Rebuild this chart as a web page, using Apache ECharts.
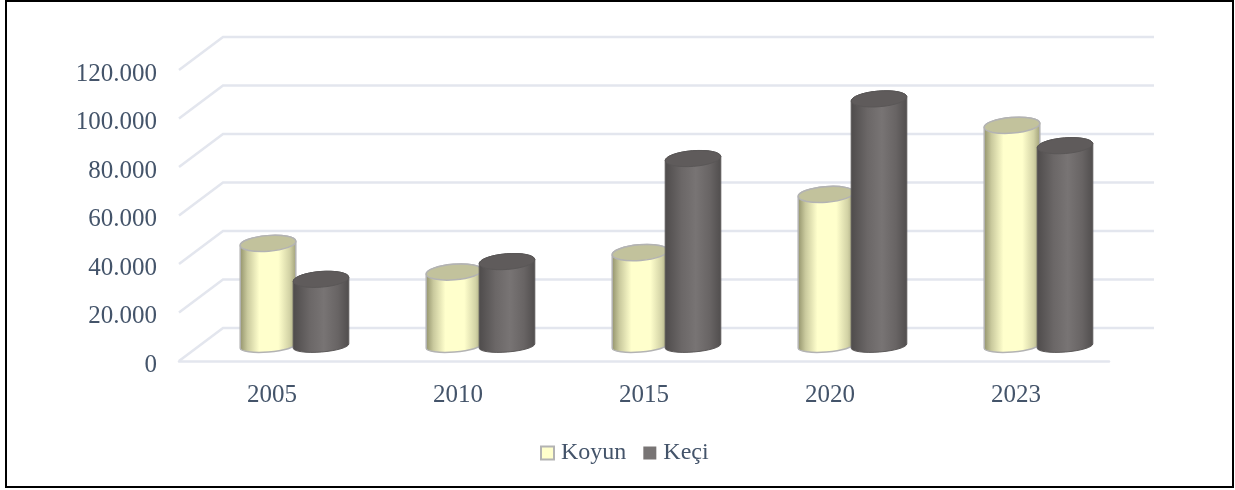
<!DOCTYPE html>
<html><head><meta charset="utf-8">
<style>html,body{margin:0;padding:0;background:#fff}#c{width:1235px;height:490px}</style>
<script src="https://cdn.jsdelivr.net/npm/echarts@6/dist/echarts.min.js"></script>
</head><body><div id="c"></div>
<script>
const years = ['2005','2010','2015','2020','2023'];
const koyun = [42300,30500,38500,62500,91000];
const keci  = [27500,34800,77300,101900,82600];
const gridTicks = [0,20000,40000,60000,80000,100000,120000];
const FONT = 'Liberation Serif';
const TXT = '#44546a';
const DX = 44, DY = -33;      // depth of the pseudo-3D floor
const CX = 22.5, CY = -15;    // where the cylinders stand in that depth
const HALF = 27.8;
const styles = {
  koyun: {
    body: {type:'linear',x:0,y:0,x2:1,y2:0,colorStops:[
      {offset:0,color:'#8f8f68'},{offset:.14,color:'#c9c99d'},{offset:.35,color:'#ffffcc'},
      {offset:.68,color:'#ffffcc'},{offset:.88,color:'#d2d2a5'},{offset:1,color:'#9c9c76'}]},
    top:'#c2c29c', stroke:'#b3b3b3', lw:1.5
  },
  keci: {
    body: {type:'linear',x:0,y:0,x2:1,y2:0,colorStops:[
      {offset:0,color:'#4e4b4b'},{offset:.3,color:'#6b6767'},{offset:.55,color:'#787474'},
      {offset:.8,color:'#686464'},{offset:1,color:'#504d4d'}]},
    top:'#5f5b5b', stroke:'#5a5757', lw:1
  }
};
function wall(params, api){
  const a = api.coord([0, api.value(0)]);
  const y = a[1], x0 = params.coordSys.x, x1 = x0 + params.coordSys.width;
  const st = {stroke:'#e3e6ee', lineWidth:2.5, fill:'none'};
  return {type:'polyline', silent:true,
    shape:{points:[[x0,y],[x0+DX,y+DY],[x1+DX+1,y+DY]]}, style:st};
}
function cylinder(shift, s){
  return function(params, api){
    const base = api.coord([api.value(0), 0]);
    const head = api.coord([api.value(0), api.value(1)]);
    const cx = base[0] + CX + shift, yb = base[1] + CY, yt = head[1] + CY;
    const t = 2.2, rxs = HALF, ryb = 6, ryt = 7.8;
    const rot = -4.5;
    const d = `M${cx-rxs} ${yt+t} A${rxs} ${ryt} ${rot} 0 1 ${cx+rxs} ${yt-t} ` +
              `L${cx+rxs} ${yb-t} A${rxs} ${ryb} ${rot} 0 1 ${cx-rxs} ${yb+t} Z`;
    const topD = `M${cx-rxs} ${yt+t} A${rxs} ${ryt} ${rot} 0 1 ${cx+rxs} ${yt-t} ` +
                 `A${rxs} ${ryt} ${rot} 0 1 ${cx-rxs} ${yt+t} Z`;
    return {type:'group', children:[
      {type:'path', shape:{pathData:d}, style:{fill:s.body, stroke:s.stroke, lineWidth:s.lw}},
      {type:'path', shape:{pathData:topD}, style:{fill:s.top, stroke:s.stroke, lineWidth:s.lw}}
    ]};
  };
}
const chart = echarts.init(document.getElementById('c'));
chart.setOption({
  animation:false,
  backgroundColor:'#fff',
  graphic:[{type:'rect', silent:true, z:100, shape:{x:6,y:1,width:1227,height:486},
    style:{fill:'none', stroke:'#000', lineWidth:2}}],
  grid:{left:179, top:70, width:930, height:291},
  legend:{
    bottom:25, left:540, padding:0, itemGap:17, itemWidth:13, itemHeight:13,
    textStyle:{fontFamily:FONT, fontSize:24, color:TXT, padding:[4,0,0,2]},
    data:[
      {name:'Koyun', icon:'rect', itemStyle:{color:'#ffffcc', borderColor:'#b3b3b3', borderWidth:2}},
      {name:'Keçi', icon:'rect', itemStyle:{color:'#787474'}}
    ]
  },
  xAxis:{type:'category', data:years,
    axisLine:{show:true, lineStyle:{color:'#e3e6ee', width:2.5}},
    axisTick:{show:false},
    axisLabel:{fontFamily:FONT, fontSize:25, color:TXT, margin:22}},
  yAxis:{type:'value', min:0, max:120000, interval:20000,
    axisLine:{show:false}, axisTick:{show:false}, splitLine:{show:false},
    axisLabel:{fontFamily:FONT, fontSize:25, color:TXT, margin:22, verticalAlign:'top', lineHeight:8,
      formatter:v=>v===0?'0':(v/1000).toFixed(0)+'.000'}},
  series:[
    {type:'custom', name:'wall', silent:true, z:1, renderItem:wall,
     encode:{y:0}, data:gridTicks.map(v=>[v]), tooltip:{show:false}},
    {type:'custom', name:'Koyun', z:3, renderItem:cylinder(-26.5, styles.koyun),
     encode:{x:0,y:1}, data:koyun.map((v,i)=>[i,v]), itemStyle:{color:'#ffffcc'}},
    {type:'custom', name:'Keçi', z:4, renderItem:cylinder(26.5, styles.keci),
     encode:{x:0,y:1}, data:keci.map((v,i)=>[i,v]), itemStyle:{color:'#787474'}}
  ]
});
</script></body></html>
